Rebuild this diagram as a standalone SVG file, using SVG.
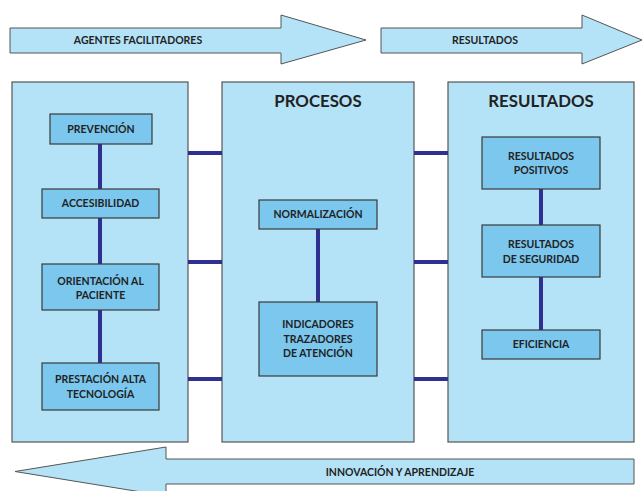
<svg xmlns="http://www.w3.org/2000/svg" width="643" height="491" viewBox="0 0 643 491">
<style>
.arrow{fill:#b4e3f8;stroke:#555;stroke-width:1}
.panel{fill:#b4e3f8;stroke:#555;stroke-width:1.2}
.box{fill:#7bc7ee;stroke:#3a3a3a;stroke-width:1.2}
.t{font-family:Lato,"Open Sans","Liberation Sans",sans-serif;font-weight:bold;font-size:10.5px;fill:#222;text-anchor:middle}
.h{font-family:Lato,"Open Sans","Liberation Sans",sans-serif;font-weight:bold;font-size:16.8px;fill:#222;text-anchor:middle}
.c{stroke:#2e3192;stroke-width:4;fill:none}
</style>
<rect width="643" height="491" fill="#fff"/>
<g id="arrow-agentes">
<polygon class="arrow" points="10,28 281,28 281,15 366,40 281,64 281,53 10,53"/>
<text class="t" x="138" y="44">AGENTES FACILITADORES</text>
</g>
<g id="arrow-resultados">
<polygon class="arrow" points="381,28 582,28 582,15 642,40 582,64 582,53 381,53"/>
<text class="t" x="485" y="44">RESULTADOS</text>
</g>
<g id="arrow-innovacion">
<polygon class="arrow" points="634,459 166,459 166,447 15,471.5 166,496 166,484 634,484"/>
<text class="t" x="400" y="475.5">INNOVACIÓN Y APRENDIZAJE</text>
</g>
<g id="panel-agentes"><rect class="panel" x="12" y="82" width="176" height="360"/></g>
<g id="panel-procesos"><rect class="panel" x="222" y="82" width="192" height="360"/><text class="h" x="318" y="107">PROCESOS</text></g>
<g id="panel-resultados"><rect class="panel" x="448" y="82" width="186" height="360"/><text class="h" x="541" y="107">RESULTADOS</text></g>
<g id="connectors">
<line class="c" x1="100" y1="144" x2="100" y2="189"/>
<line class="c" x1="100" y1="218" x2="100" y2="264"/>
<line class="c" x1="100" y1="310" x2="100" y2="363"/>
<line class="c" x1="318" y1="229" x2="318" y2="302"/>
<line class="c" x1="541" y1="189" x2="541" y2="225"/>
<line class="c" x1="541" y1="277" x2="541" y2="330"/>
<line class="c" x1="188" y1="153" x2="222" y2="153"/>
<line class="c" x1="188" y1="262" x2="222" y2="262"/>
<line class="c" x1="188" y1="379" x2="222" y2="379"/>
<line class="c" x1="414" y1="153" x2="448" y2="153"/>
<line class="c" x1="414" y1="262" x2="448" y2="262"/>
<line class="c" x1="414" y1="379" x2="448" y2="379"/>
</g>
<g id="prevencion"><rect class="box" x="50" y="114" width="102" height="30"/><text class="t" x="101" y="132.8">PREVENCIÓN</text></g>
<g id="accesibilidad"><rect class="box" x="42" y="189" width="117" height="29"/><text class="t" x="100.5" y="207.3">ACCESIBILIDAD</text></g>
<g id="orientacion"><rect class="box" x="42" y="264" width="117" height="46"/><text class="t" x="100.5" y="284.8">ORIENTACIÓN AL</text><text class="t" x="100.5" y="298.8">PACIENTE</text></g>
<g id="prestacion"><rect class="box" x="42" y="363" width="117" height="47"/><text class="t" x="100.5" y="382.8">PRESTACIÓN ALTA</text><text class="t" x="100.5" y="397.8">TECNOLOGÍA</text></g>
<g id="normalizacion"><rect class="box" x="259" y="200" width="118" height="29"/><text class="t" x="318" y="218.3">NORMALIZACIÓN</text></g>
<g id="indicadores"><rect class="box" x="259" y="302" width="118" height="74"/><text class="t" x="318" y="327.8">INDICADORES</text><text class="t" x="318" y="342.8">TRAZADORES</text><text class="t" x="318" y="356.8">DE ATENCIÓN</text></g>
<g id="resultados-positivos"><rect class="box" x="482" y="137" width="118" height="52"/><text class="t" x="541" y="159.8">RESULTADOS</text><text class="t" x="541" y="173.8">POSITIVOS</text></g>
<g id="resultados-seguridad"><rect class="box" x="482" y="225" width="118" height="52"/><text class="t" x="541" y="247.8">RESULTADOS</text><text class="t" x="541" y="262.8">DE SEGURIDAD</text></g>
<g id="eficiencia"><rect class="box" x="482" y="330" width="118" height="29"/><text class="t" x="541" y="347.8">EFICIENCIA</text></g>
</svg>
